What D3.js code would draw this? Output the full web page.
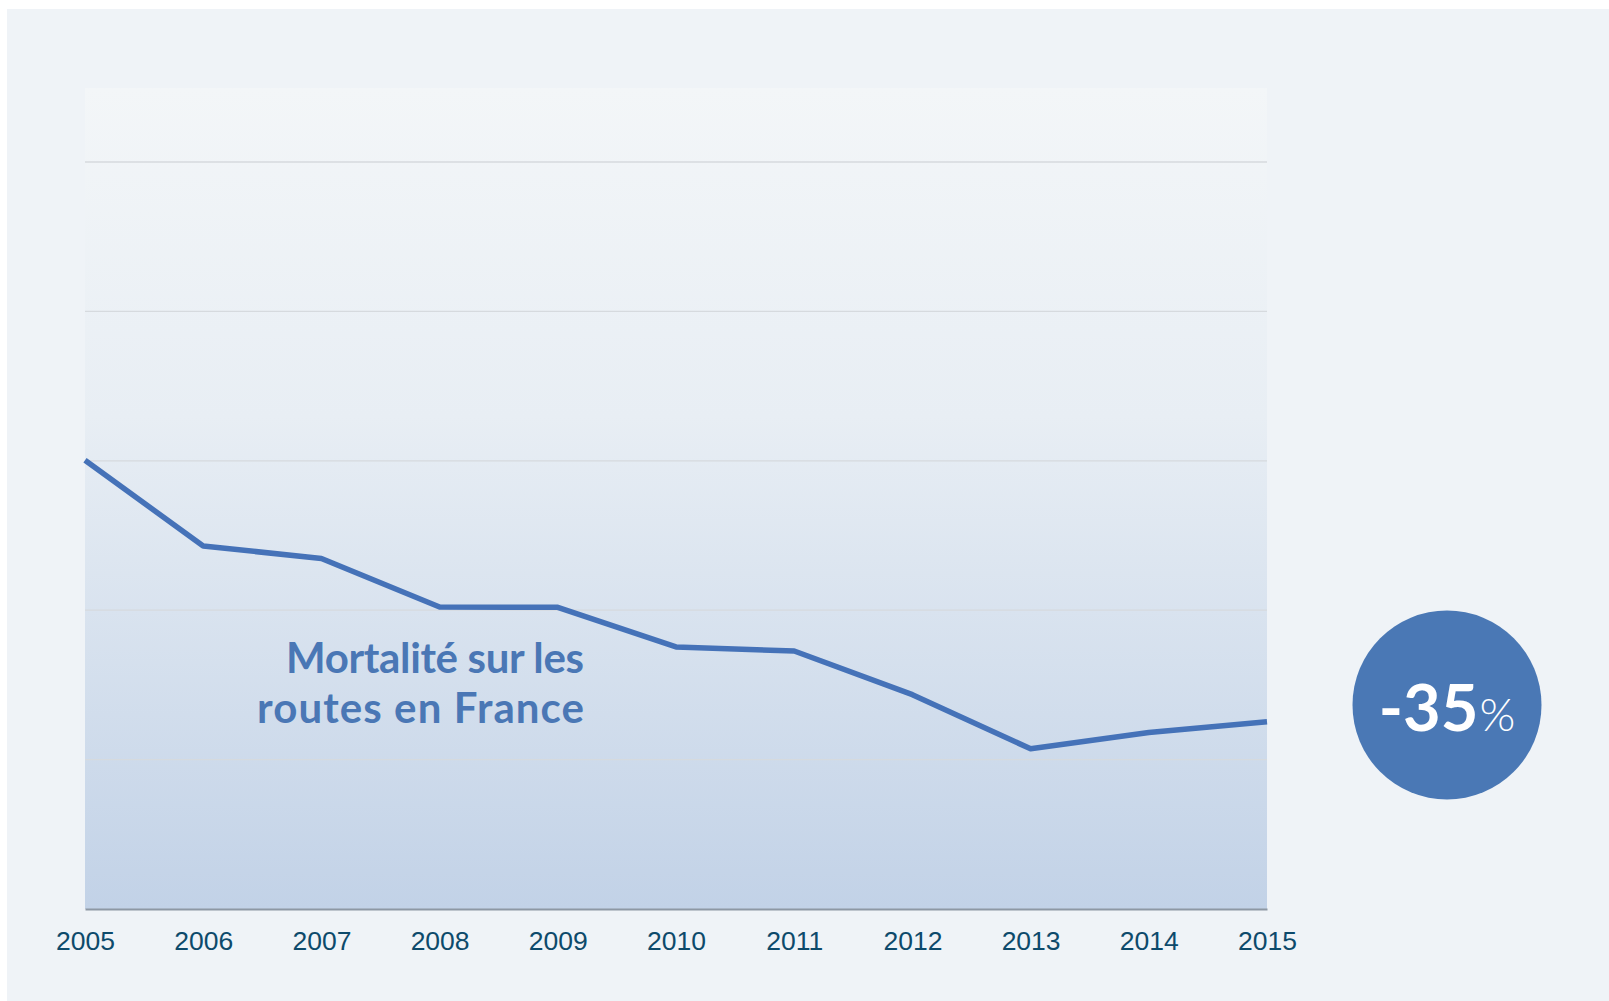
<!DOCTYPE html>
<html><head><meta charset="utf-8">
<script src="https://cdn.jsdelivr.net/npm/d3@7"></script>
<style>html,body{margin:0;padding:0;background:#fff;}svg{display:block;}</style>
</head><body>
<svg id="c" width="1609" height="1001"></svg>
<script>
const years = ["2005","2006","2007","2008","2009","2010","2011","2012","2013","2014","2015"];
const deaths = [5318,4709,4620,4275,4273,3992,3963,3653,3268,3384,3461];
const yDomain = [2130, 7437];
const gridCount = 5;
const titleLines = ["Mortalité sur les","routes en France"];
const badgeNumber = "-35";
const badgeUnit = "%";

const svg = d3.select("#c");
const W = 1609, H = 1001;
const plot = {left:85, right:1267, top:88, bottom:909};

svg.append("rect").attr("x",7).attr("y",9).attr("width",W-7).attr("height",H-9).attr("fill","#eff3f7");

const defs = svg.append("defs");
const g = defs.append("linearGradient").attr("id","bg").attr("x1",0).attr("y1",0).attr("x2",0).attr("y2",1);
g.append("stop").attr("offset","0%").attr("stop-color","#f3f6f8");
g.append("stop").attr("offset","40%").attr("stop-color","#e8eef4");
g.append("stop").attr("offset","100%").attr("stop-color","#c2d2e7");

svg.append("rect").attr("x",plot.left).attr("y",plot.top)
  .attr("width",plot.right-plot.left).attr("height",plot.bottom-plot.top).attr("fill","url(#bg)");

const x = d3.scalePoint().domain(years).range([plot.left, plot.right]);
const y = d3.scaleLinear().domain(yDomain).range([plot.bottom, 162]);

const gridVals = d3.range(1, gridCount+1).map(i => yDomain[0] + i*(yDomain[1]-yDomain[0])/gridCount);
svg.append("g").selectAll("line").data(gridVals).join("line")
  .attr("x1",plot.left).attr("x2",plot.right)
  .attr("y1",d=>y(d)).attr("y2",d=>y(d))
  .attr("stroke","#d6dade").attr("stroke-width",1.3);

const xAxis = svg.append("g").attr("transform",`translate(0,${plot.bottom})`)
  .call(d3.axisBottom(x).tickSize(0).tickPadding(22));
xAxis.select(".domain").attr("stroke","#8d98a4").attr("stroke-width",2.2);
xAxis.selectAll("text").attr("fill","#0d4a6b").attr("font-family","Liberation Sans, Arial, sans-serif")
  .attr("font-size",26.5).attr("dy","0.71em");

const line = d3.line().x((d,i)=>x(years[i])).y(d=>y(d));
svg.append("path").datum(deaths).attr("d",line).attr("fill","none")
  .attr("stroke","#4572b8").attr("stroke-width",5.5).attr("stroke-linejoin","round");

const titleWidths = [298, 327];
const t = svg.append("text").attr("text-anchor","end").attr("fill","#4a77b5")
  .attr("font-family","Lato, sans-serif").attr("font-weight",700).attr("font-size",42);
titleLines.forEach((s,i)=>t.append("tspan").attr("x",584).attr("y",673+i*49.5)
  .attr("textLength",titleWidths[i]).attr("lengthAdjust","spacing").text(s));

const cx = 1447, cy = 705, r = 94.5;
svg.append("circle").attr("cx",cx).attr("cy",cy).attr("r",r).attr("fill","#4a78b5");
const bt = svg.append("text").attr("x",cx).attr("y",731).attr("text-anchor","middle").attr("fill","#fff")
  .attr("font-family","Lato, sans-serif");
bt.append("tspan").attr("font-weight",700).attr("font-size",65).text(badgeNumber);
bt.append("tspan").attr("font-weight",300).attr("font-size",46).attr("dx",1).text(badgeUnit);
</script>
</body></html>
